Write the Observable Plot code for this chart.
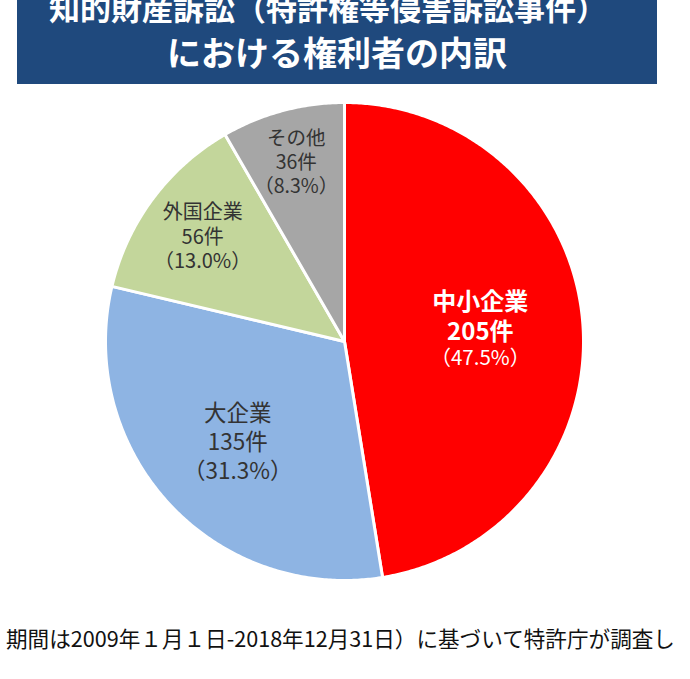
<!DOCTYPE html>
<html>
<head>
<meta charset="utf-8">
<script src="https://cdn.jsdelivr.net/npm/d3@7"></script>
<script src="https://cdn.jsdelivr.net/npm/@observablehq/plot@0.6"></script>
<style>
  html, body { margin: 0; padding: 0; background: #fff; }
  body { width: 690px; height: 679px; position: relative; overflow: hidden; font-family: "Noto Sans CJK JP", "Noto Sans", sans-serif; }
  #title { position: absolute; left: 17px; top: 0; width: 640px; height: 84px; background: #1F497D; overflow: hidden; color: #fff; font-weight: bold; }
  #title div { position: absolute; left: 0; width: 100%; text-align: center; line-height: 1; white-space: nowrap; }
  #t1 { font-size: 31px; top: -9px; margin-left: -9px; }
  #t2 { font-size: 34px; top: 35px; }
  #chart { position: absolute; left: 0; top: 84px; }
  #foot { position: absolute; left: 6px; top: 625px; font-size: 21.6px; line-height: 1.2; color: #111; white-space: nowrap; }
</style>
</head>
<body>
<div id="title"><div id="t1">知的財産訴訟（特許権等侵害訴訟事件）</div><div id="t2">における権利者の内訳</div></div>
<div id="chart"></div>
<div id="foot">期間は2009年１月１日-2018年12月31日）に基づいて特許庁が調査し</div>
<script>
const categories = ["中小企業", "大企業", "外国企業", "その他"];
const counts = [205, 135, 56, 36];
const percents = ["47.5", "31.3", "13.0", "8.3"];
const colors = ["#FF0000", "#8EB4E3", "#C3D69B", "#A6A6A6"];

// label styling (not data)
const labelRadius = [0.57, 0.61, 0.74, 0.78];
const labelStyle = [
  {color: "#ffffff", size: 24, pctSize: 20.5, bold: true, gap: 30, gapDown: 28},
  {color: "#333333", size: 22.5, bold: false, gap: 29},
  {color: "#333333", size: 20, bold: false, gap: 24.5},
  {color: "#333333", size: 19.5, bold: false, gap: 24}
];

const table = categories.map((name, i) => ({name, count: counts[i], pct: percents[i], color: colors[i], i}));
const arcs = d3.pie().sort(null).value(d => d.count).startAngle(0).endAngle(2 * Math.PI)(table);

const marks = [];
arcs.forEach(a => {
  const pts = [{x: 0, y: 0}];
  const n = Math.max(8, Math.ceil((a.endAngle - a.startAngle) / (Math.PI / 360)));
  for (let k = 0; k <= n; k++) {
    const t = a.startAngle + (a.endAngle - a.startAngle) * k / n;
    pts.push({x: Math.sin(t), y: Math.cos(t)});
  }
  pts.push({x: 0, y: 0});
  marks.push(Plot.line(pts, {x: "x", y: "y", fill: a.data.color, stroke: "white", strokeWidth: 3, strokeLinejoin: "round"}));
});

arcs.forEach(a => {
  const i = a.data.i;
  const mid = (a.startAngle + a.endAngle) / 2;
  const r = labelRadius[i];
  const s = labelStyle[i];
  const p = [{x: r * Math.sin(mid), y: r * Math.cos(mid), d: a.data}];
  if (s.bold) {
    marks.push(Plot.text(p, {x: "x", y: "y", text: d => d.d.name + "\n" + d.d.count + "件", lineHeight: s.gap / s.size, dy: -s.gap / 2, fill: s.color, fontSize: s.size, fontWeight: "bold", fontFamily: "Noto Sans CJK JP"}));
    marks.push(Plot.text(p, {x: "x", y: "y", text: d => "（" + d.d.pct + "%）", dy: s.gapDown, fill: s.color, fontSize: s.pctSize, fontWeight: "normal", fontFamily: "Noto Sans CJK JP"}));
  } else {
    marks.push(Plot.text(p, {x: "x", y: "y", text: d => d.d.name + "\n" + d.d.count + "件\n（" + d.d.pct + "%）", lineHeight: s.gap / s.size, fill: s.color, fontSize: s.size, fontWeight: "normal", fontFamily: "Noto Sans CJK JP"}));
  }
});

const chart = Plot.plot({
  width: 690,
  height: 530,
  marginLeft: 105,
  marginRight: 107,
  marginTop: 18,
  marginBottom: 34,
  x: {domain: [-1, 1], axis: null},
  y: {domain: [-1, 1], axis: null},
  style: {background: "transparent", overflow: "visible"},
  marks
});
document.getElementById("chart").appendChild(chart);
</script>
</body>
</html>
